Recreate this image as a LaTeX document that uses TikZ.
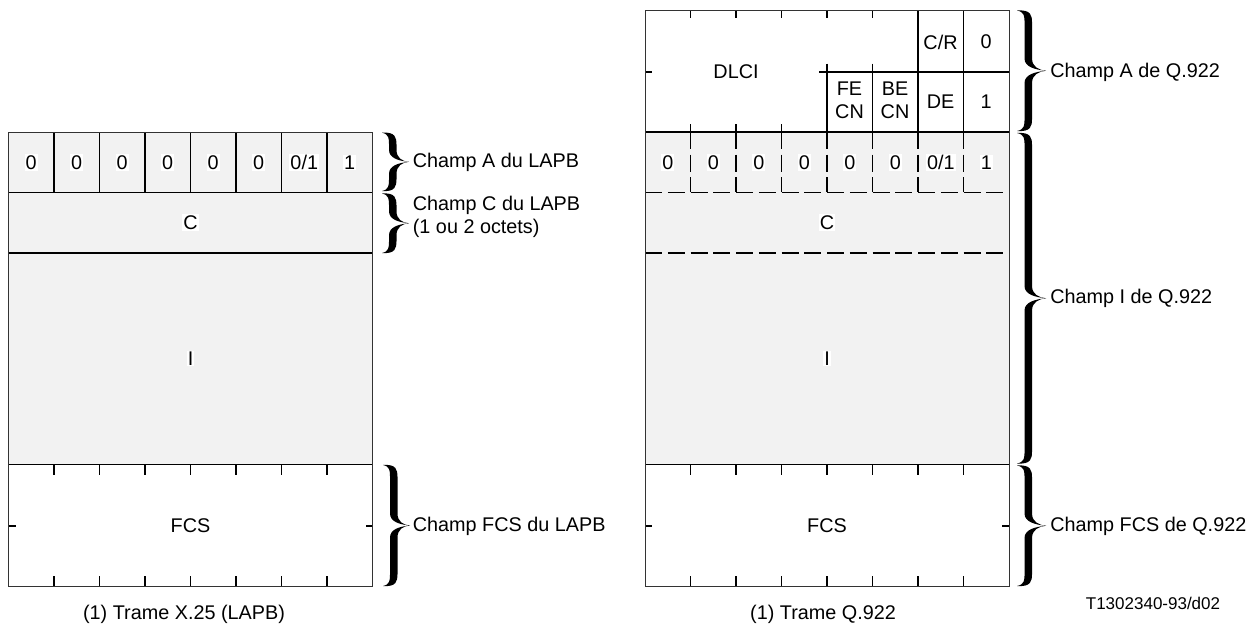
\documentclass[tikz,border=0pt]{standalone}
\usepackage{fontspec}
\setmainfont{Liberation Sans}
\usetikzlibrary{calc}
\definecolor{fieldgray}{HTML}{F2F2F2}
\tikzset{frame/.style={line width=0.5pt,black!80}}
\tikzset{sep/.style={line width=0.9pt,black}}
\tikzset{dashsep/.style={line width=0.9pt,black,dash pattern=on 8.5pt off 2.875pt}}
\tikzset{ticks/.style={line width=0.9pt,black}}
\tikzset{lbl/.style={inner sep=0.5pt,font=\fontsize{9.9}{11.5}\selectfont}}
\tikzset{graylbl/.style={lbl,fill=white}}
\tikzset{champ/.style={lbl,anchor=west,align=left}}

% filled curly brace: x, top y, bottom y, width
\newcommand{\fieldbrace}[4]{%
  \pgfmathsetmacro{\brMid}{(#2+#3)/2}
  \pgfmathsetmacro{\brS}{#1+0.26*#4}
  \pgfmathsetmacro{\brT}{\brS+7.5}
  \pgfmathsetmacro{\brTip}{#1+#4}
  \fill (#1,#2) .. controls (\brT-1,#2-1) and (\brT,#2+5) .. (\brT,#2+12)
    -- (\brT,\brMid-12) .. controls (\brT,\brMid-4) and (\brTip-7,\brMid-0.5) .. (\brTip,\brMid)
    .. controls (\brTip-7,\brMid+0.5) and (\brT,\brMid+4) .. (\brT,\brMid+12)
    -- (\brT,#3-12) .. controls (\brT,#3-5) and (\brT-1,#3+1) .. (#1,#3)
    .. controls (\brS,#3-1.5) and (\brS,#3-6) .. (\brS,#3-12)
    -- (\brS,\brMid+12) .. controls (\brS,\brMid+4) and (\brTip-11,\brMid+1) .. (\brTip,\brMid)
    .. controls (\brTip-11,\brMid-1) and (\brS,\brMid-4) .. (\brS,\brMid-12)
    -- (\brS,#2+12) .. controls (\brS,#2+6) and (\brS,#2+1.5) .. (#1,#2) -- cycle;
}

\begin{document}
\begin{tikzpicture}[x=0.5pt,y=-0.5pt]
	\useasboundingbox (0,0) rectangle (1257,630);

	% trame X.25 (LAPB)
	\fill[fieldgray] (8.5,132.5) rectangle (372.5,464.5);
	\foreach \i in {1,...,7} {
		\draw[sep] (8.5+45.5*\i,132.5) -- ++(0,60);
		\draw[ticks] (8.5+45.5*\i,464.5) -- ++(0,10);
		\draw[ticks] (8.5+45.5*\i,586) -- ++(0,-10);
	}
	\foreach \y in {192.5,253.3,464.5} \draw[sep] (8.5,\y) -- (372.5,\y);
	\draw[ticks] (8.5,526) -- ++(7,0);
	\draw[ticks] (372.5,526) -- ++(-7,0);
	\draw[frame] (8.5,132.5) rectangle (372.5,586);

	\foreach \t [count=\i] in {0,0,0,0,0,0,{0/1},1}
		\node[graylbl] (xbit\i) at (8.5+45.5*\i-22.75,162.5) {\t};
	\node[graylbl] (xc) at (190.5,222.5) {C};
	\node[graylbl] (xi) at (190.5,358.5) {I};
	\node[lbl] (xfcs) at (190.5,526) {FCS};
	\node[lbl] (xcap) at (184,614) {(1) Trame X.25 (LAPB)};

	\fieldbrace{382}{132.7}{191}{27}
	\fieldbrace{382}{193.5}{253}{27}
	\fieldbrace{383}{465}{586}{27}
	\node[champ] (xchA) at (411.5,162) {Champ A du LAPB};
	\node[champ] (xchC) at (411.5,216.5) {Champ C du LAPB\\(1 ou 2 octets)};
	\node[champ] (xchF) at (411.5,526) {Champ FCS du LAPB};

	% trame Q.922
	\fill[fieldgray] (645,132) rectangle (1009,464.5);
	\foreach \i in {1,...,5} \draw[ticks] (645+45.5*\i,10.5) -- ++(0,8);
	\foreach \i in {1,2,3} \draw[ticks] (645+45.5*\i,132) -- ++(0,-8);
	\draw[ticks] (645,71.7) -- ++(7,0);
	\draw[sep] (819,71.7) -- (1009,71.7);
	\foreach \i in {4,5} \draw[sep] (645+45.5*\i,63.7) -- (645+45.5*\i,132);
	\foreach \i in {6,7} \draw[sep] (645+45.5*\i,10.5) -- (645+45.5*\i,132);
	\draw[sep] (645,132) -- (1009,132);
	\foreach \i in {1,...,7} {
		\draw[dashsep] (645+45.5*\i,132) -- (645+45.5*\i,192.5);
		\draw[ticks] (645+45.5*\i,464.5) -- ++(0,10);
		\draw[ticks] (645+45.5*\i,586) -- ++(0,-10);
	}
	\foreach \y in {192.5,253.3} \draw[dashsep] (645,\y) -- (1009,\y);
	\draw[sep] (645,464.5) -- (1009,464.5);
	\draw[ticks] (645,526) -- ++(7,0);
	\draw[ticks] (1009,526) -- ++(-7,0);
	\draw[frame] (645,10.5) rectangle (1009,586);

	\node[lbl] (qdlci) at (736,72) {DLCI};
	\node[lbl] (qcr) at (940.5,42) {C/R};
	\node[lbl] (qea0) at (986,42) {0};
	\node[lbl,align=center] (qfecn) at (849.5,100) {FE\\CN};
	\node[lbl,align=center] (qbecn) at (895,100) {BE\\CN};
	\node[lbl] (qde) at (940.5,102) {DE};
	\node[lbl] (qea1) at (986,102) {1};
	\foreach \t [count=\i] in {0,0,0,0,0,0,{0/1},1}
		\node[graylbl] (qbit\i) at (645+45.5*\i-22.75,162.5) {\t};
	\node[graylbl] (qc) at (827,222.5) {C};
	\node[graylbl] (qi) at (827,358.5) {I};
	\node[lbl] (qfcs) at (827,526) {FCS};
	\node[lbl] (qcap) at (823,614) {(1) Trame Q.922};

	\fieldbrace{1017}{10.5}{131}{29}
	\fieldbrace{1017}{133}{463.5}{29}
	\fieldbrace{1017}{465.5}{586}{29}
	\node[champ] (qchA) at (1049,72) {Champ A de Q.922};
	\node[champ] (qchI) at (1049,298) {Champ I de Q.922};
	\node[champ] (qchF) at (1049,526) {Champ FCS de Q.922};
	\node[lbl,font=\fontsize{8.5}{10}\selectfont] (qref) at (1153,603) {T1302340-93/d02};
\end{tikzpicture}
\end{document}
